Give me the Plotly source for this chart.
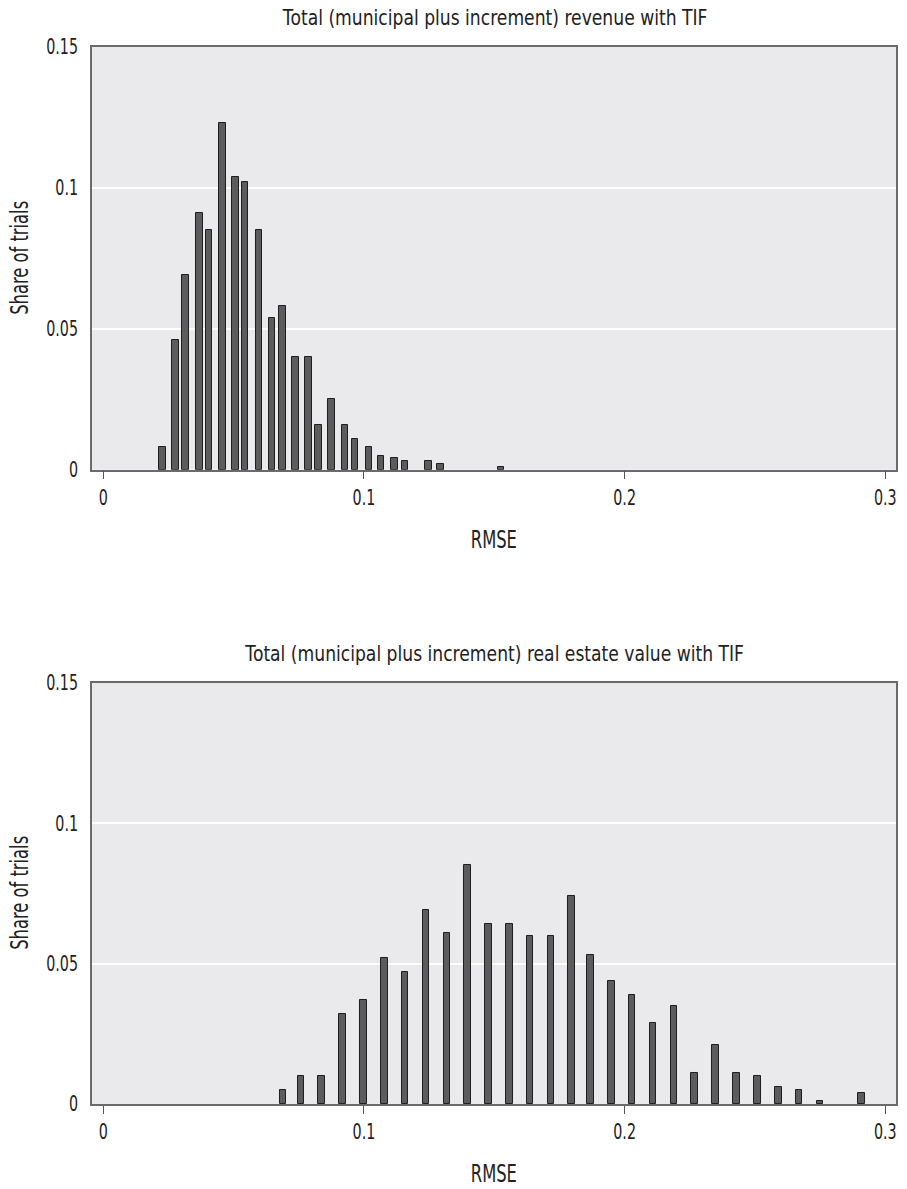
import plotly.graph_objects as go

# ---- data ----
top_title = "Total (municipal plus increment) revenue with TIF"
bottom_title = "Total (municipal plus increment) real estate value with TIF"
x_label = "RMSE"
y_label = "Share of trials"

top_rmse = [0.0228, 0.0278, 0.0316, 0.0369, 0.0406, 0.0458, 0.0508, 0.0544,
            0.0598, 0.0647, 0.0688, 0.0737, 0.0787, 0.0825, 0.0876, 0.0928,
            0.0965, 0.1019, 0.1066, 0.1117, 0.1157, 0.1247, 0.1294, 0.1525]
top_share = [0.008, 0.046, 0.069, 0.091, 0.085, 0.123, 0.104, 0.102,
             0.085, 0.054, 0.058, 0.040, 0.040, 0.016, 0.025, 0.016,
             0.011, 0.008, 0.005, 0.004, 0.003, 0.003, 0.002, 0.001]

bottom_rmse = [0.0689, 0.0759, 0.0838, 0.0918, 0.0998, 0.1078, 0.1158, 0.1238,
               0.1318, 0.1398, 0.1478, 0.1558, 0.1637, 0.1717, 0.1797, 0.1869,
               0.1949, 0.2029, 0.2109, 0.2189, 0.2269, 0.2349, 0.2430, 0.2510,
               0.2590, 0.2669, 0.2749, 0.2908]
bottom_share = [0.005, 0.010, 0.010, 0.032, 0.037, 0.052, 0.047, 0.069,
                0.061, 0.085, 0.064, 0.064, 0.060, 0.060, 0.074, 0.053,
                0.044, 0.039, 0.029, 0.035, 0.011, 0.021, 0.011, 0.010,
                0.006, 0.005, 0.001, 0.004]

x_ticks = [0, 0.1, 0.2, 0.3]
x_tick_text = ["0", "0.1", "0.2", "0.3"]
y_ticks = [0, 0.05, 0.1, 0.15]
y_tick_text = ["0", "0.05", "0.1", "0.15"]

# ---- style ----
FONT = "DejaVu Sans, sans-serif"
TXT = "#222222"
BAR_FILL = "#5c5c5c"
BAR_LINE = "#1e1e1e"
BG = "#EAEAEC"
FRAME = "#6a6a6a"
BAR_W = 0.0025

fig = go.Figure()
fig.add_trace(go.Bar(x=top_rmse, y=top_share, width=BAR_W,
                     marker=dict(color=BAR_FILL, line=dict(color=BAR_LINE, width=1)),
                     xaxis="x", yaxis="y", showlegend=False))
fig.add_trace(go.Bar(x=bottom_rmse, y=bottom_share, width=BAR_W,
                     marker=dict(color=BAR_FILL, line=dict(color=BAR_LINE, width=1)),
                     xaxis="x2", yaxis="y2", showlegend=False))

tick_font = dict(family=FONT, size=21, color=TXT)
xaxis_common = dict(range=[-0.0043, 0.3041], tickvals=x_ticks, ticktext=x_tick_text,
                    ticks="outside", ticklen=8, tickcolor="#555555", tickwidth=1,
                    showgrid=False, zeroline=False, showline=True, linecolor=FRAME,
                    linewidth=1.5, mirror=True, tickfont=tick_font)
yaxis_common = dict(range=[0, 0.15], tickvals=y_ticks, ticktext=y_tick_text,
                    ticks="", showgrid=True, gridcolor="#ffffff", gridwidth=1.5,
                    zeroline=False, showline=True, linecolor=FRAME, linewidth=1.5,
                    mirror=True, ticklabelstandoff=8, tickfont=tick_font)

fig.update_layout(
    width=907, height=1189,
    margin=dict(l=92, r=5, t=47, b=85),
    paper_bgcolor="white",
    plot_bgcolor=BG,
    bargap=0,
    xaxis=dict(domain=[0, 1], anchor="y", **xaxis_common),
    yaxis=dict(domain=[0.6001, 1.0], anchor="x", **yaxis_common),
    xaxis2=dict(domain=[0, 1], anchor="y2", **xaxis_common),
    yaxis2=dict(domain=[0.0, 0.3983], anchor="x2", **yaxis_common),
    font=dict(family=FONT, color=TXT),
)

title_font = dict(family=FONT, size=22, color=TXT)
label_font = dict(family=FONT, size=24, color=TXT)
def px_to_paper_x(px):
    return (px - 92) / 810.0
def px_to_paper_y(py):
    return (1104 - py) / 1057.0

annotations = [
    dict(text=top_title, x=px_to_paper_x(497), y=px_to_paper_y(18), font=title_font),
    dict(text=bottom_title, x=px_to_paper_x(497), y=px_to_paper_y(653), font=title_font),
    dict(text=x_label, x=px_to_paper_x(497), y=px_to_paper_y(540), font=label_font),
    dict(text=x_label, x=px_to_paper_x(497), y=px_to_paper_y(1174), font=label_font),
    dict(text=y_label, x=px_to_paper_x(19), y=px_to_paper_y(258), textangle=-90, font=label_font),
    dict(text=y_label, x=px_to_paper_x(19), y=px_to_paper_y(893), textangle=-90, font=label_font),
]
for a in annotations:
    fig.add_annotation(xref="paper", yref="paper", showarrow=False,
                       xanchor="center", yanchor="middle", **a)

# The original uses a tall, condensed typeface; narrow the glyphs a little.
condense_js = """
(function(){
  document.querySelectorAll('.js-plotly-plot text').forEach(function(t){
    try {
      var L = t.getComputedTextLength();
      var F = (t.textContent.length > 20) ? 0.78 : 0.68;
      if (L > 0) {
        t.setAttribute('textLength', (L * F).toFixed(2));
        t.setAttribute('lengthAdjust', 'spacingAndGlyphs');
      }
    } catch (e) {}
  });
})();
"""

fig.write_html("out.html", post_script=condense_js)
